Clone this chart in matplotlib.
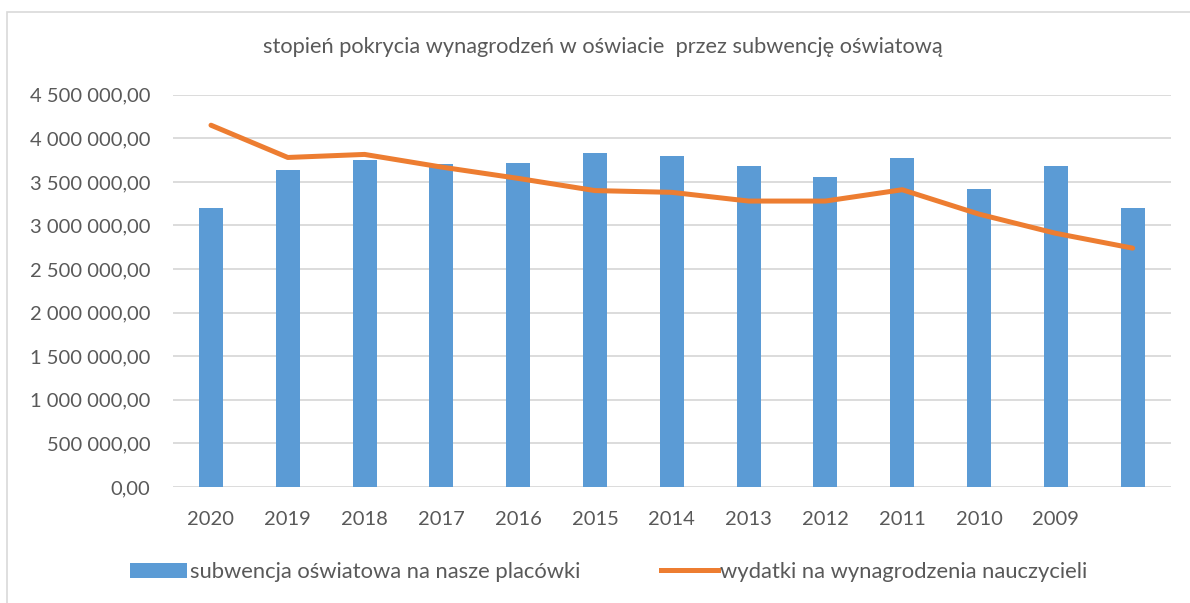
import matplotlib.pyplot as plt
import numpy as np
from matplotlib.patches import Patch, Rectangle
from matplotlib.lines import Line2D
from matplotlib.ticker import FuncFormatter

# values
years = ['2020', '2019', '2018', '2017', '2016', '2015', '2014',
         '2013', '2012', '2011', '2010', '2009', '']
subwencja = [3200000, 3640000, 3750000, 3700000, 3720000, 3830000, 3800000,
             3680000, 3560000, 3770000, 3420000, 3680000, 3200000]
wydatki = [4150000, 3780000, 3815000, 3670000, 3540000, 3400000, 3380000,
           3280000, 3280000, 3410000, 3130000, 2910000, 2740000]

title = 'stopień pokrycia wynagrodzeń w oświacie  przez subwencję oświatową'
label_bar = 'subwencja oświatowa na nasze placówki'
label_line = 'wydatki na wynagrodzenia nauczycieli'

plt.rcParams['font.family'] = ['Lato', 'DejaVu Sans']
text_col = '#595959'
blue = '#5B9BD5'
orange = '#ED7D31'


def pl_fmt(v, pos):
    s = f'{v:,.2f}'
    return s.replace(',', ' ').replace('.', ',')


fig = plt.figure(figsize=(11.9, 6.03), dpi=100)
fig.patches.append(Rectangle((7 / 1190, -0.1), 1.2, 1.1 - 12 / 603,
                             transform=fig.transFigure, fill=False,
                             edgecolor='#d9d9d9', lw=1.2))

ax = fig.add_axes([172.6 / 1190, 116 / 603, 998.4 / 1190, 392.3 / 603])
x = np.arange(len(years))
ax.bar(x, subwencja, width=0.31, color=blue, zorder=2, label=label_bar)
ax.plot(x, wydatki, color=orange, lw=3.6, solid_capstyle='round', zorder=3,
        label=label_line)

ax.set_xlim(-0.5, len(years) - 0.5)
ax.set_ylim(0, 4500000)
ax.set_yticks(np.arange(0, 4500001, 500000))
ax.yaxis.set_major_formatter(FuncFormatter(pl_fmt))
ax.set_xticks(x)
ax.set_xticklabels(years)
ax.grid(axis='y', color='#d9d9d9', lw=1.3, zorder=0)
for s in ax.spines.values():
    s.set_visible(False)
ax.tick_params(length=0, labelsize=14.5, colors=text_col)
ax.tick_params(axis='x', pad=17)
ax.tick_params(axis='y', pad=16)

fig.text(603 / 1190, 1 - 47 / 603, title, ha='center', va='center',
         fontsize=15.7, color=text_col)

handles = [Patch(facecolor=blue, label=label_bar),
           Line2D([], [], color=orange, lw=3.6, label=label_line)]
fig.legend(handles=handles, loc='center', bbox_to_anchor=(609 / 1190, 1 - 572 / 603),
           ncol=2, frameon=False, fontsize=15.8, labelcolor=text_col,
           handlelength=2.6, handletextpad=0.1, columnspacing=3.7)

fig.savefig('out.png', dpi=100)
